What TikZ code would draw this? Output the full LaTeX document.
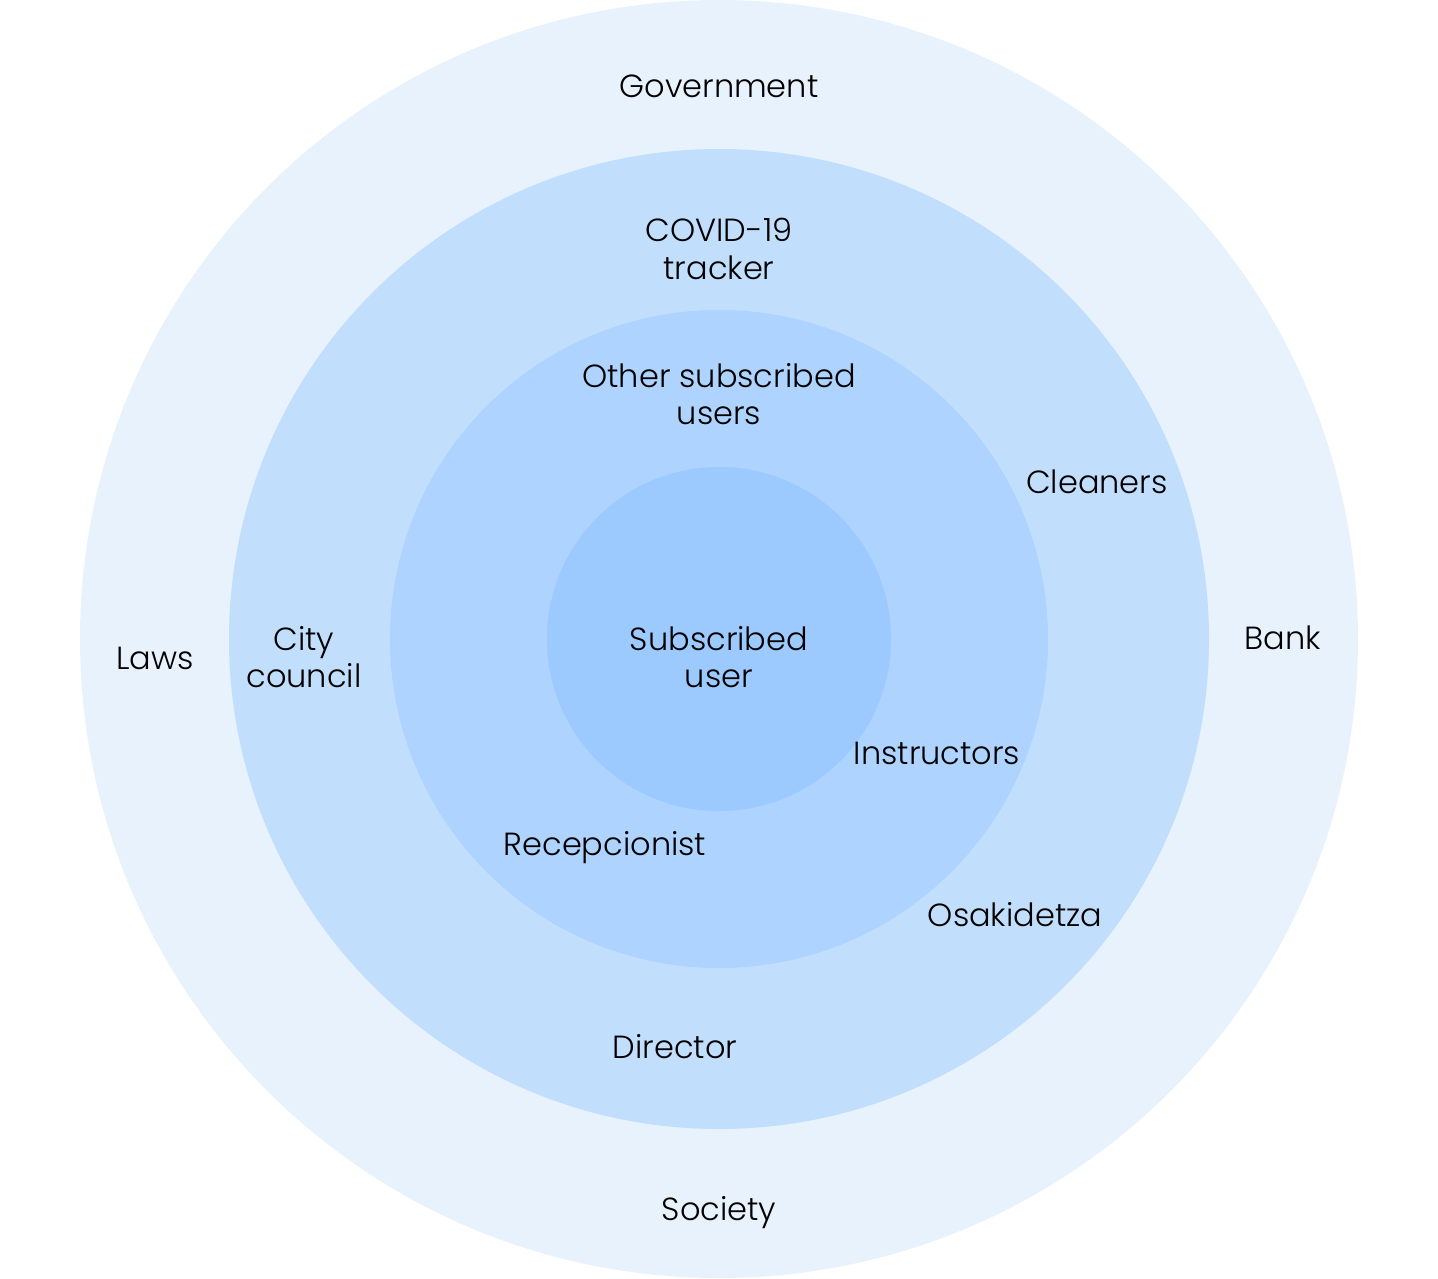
\documentclass[tikz,border=0pt]{standalone}
\usepackage{fontspec}
\setmainfont{Poppins Light}
\definecolor{ringA}{RGB}{232,242,253}
\definecolor{ringB}{RGB}{194,222,253}
\definecolor{ringC}{RGB}{173,211,254}
\definecolor{ringD}{RGB}{156,201,254}
\begin{document}
\begin{tikzpicture}[x=1pt,y=-1pt,
  lbl/.style={align=center,font=\fontsize{32}{37.5}\selectfont,text=black,inner sep=0pt},
  ring/.style={circle,draw=none,inner sep=0pt}]
\useasboundingbox (0,0) rectangle (1438,1278);
\node[ring,fill=ringA,minimum size=1278pt] (r1) at (719,639) {};
\node[ring,fill=ringB,minimum size=980pt] (r2) at (719,639) {};
\node[ring,fill=ringC,minimum size=658pt] (r3) at (719,639) {};
\node[ring,fill=ringD,minimum size=344pt] (r4) at (719,639) {};
\node[lbl] (gov) at (719,86) {Government};
\node[lbl] (covid) at (719,249) {COVID-19\\tracker};
\node[lbl] (other) at (719,394) {Other subscribed\\users};
\node[lbl] (clean) at (1097,482) {Cleaners};
\node[lbl] (bank) at (1283,638) {Bank};
\node[lbl] (laws) at (155,658) {Laws};
\node[lbl] (city) at (304,657) {City\\council};
\node[lbl] (sub) at (719,657) {Subscribed\\user};
\node[lbl] (instr) at (937,753) {Instructors};
\node[lbl] (recep) at (605,848) {Recepcionist};
\node[lbl] (osak) at (1015,915) {Osakidetza};
\node[lbl] (dir) at (675,1047) {Director};
\node[lbl] (soc) at (719,1213) {Society};
\end{tikzpicture}
\end{document}
